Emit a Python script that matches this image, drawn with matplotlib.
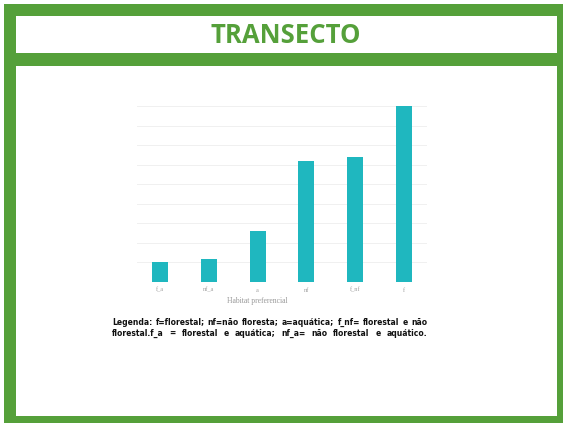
import matplotlib
matplotlib.use("Agg")
import matplotlib.pyplot as plt
from matplotlib.patches import Rectangle

# ---- data ----
categories = ["f_a", "nf_a", "a", "nf", "f_nf", "f"]
values = [5, 6, 13, 31, 32, 45]
grid_ticks = [0, 5, 10, 15, 20, 25, 30, 35, 40, 45]
title_text = "TRANSECTO"
xlabel_text = "Habitat preferencial"
legend_lines = [
    "Legenda: f=florestal; nf=não floresta; a=aquática; f_nf= florestal e não",
    "florestal.f_a = florestal e aquática; nf_a= não florestal e aquático.",
]

W, H = 563, 423
DPI = 100
GREEN = "#55A03A"
BAR = "#1FB7BF"

fig = plt.figure(figsize=(W / DPI, H / DPI), dpi=DPI)
fig.patch.set_facecolor("white")


def fx(px):
    return px / W


def fy(py):
    return 1 - py / H


# green frame
fig.patches.append(Rectangle((fx(4), fy(423)), fx(563) - fx(4), fy(4) - fy(423),
                             transform=fig.transFigure, facecolor=GREEN, edgecolor="none", zorder=0))
# header white box
fig.patches.append(Rectangle((fx(16), fy(53)), fx(557) - fx(16), fy(16) - fy(53),
                             transform=fig.transFigure, facecolor="white", edgecolor="none", zorder=0.1))
# main white box
fig.patches.append(Rectangle((fx(16), fy(416)), fx(557) - fx(16), fy(66) - fy(416),
                             transform=fig.transFigure, facecolor="white", edgecolor="none", zorder=0.1))

fig.text(fx(286), fy(35.5), title_text, ha="center", va="center", color=GREEN,
         fontsize=18.5, fontweight="bold", family="Open Sans", zorder=5)

# chart axes
ax = fig.add_axes([fx(137), fy(282), fx(427) - fx(137), fy(106) - fy(282)])
ax.set_zorder(3)
ax.set_facecolor("none")
x = list(range(len(categories)))
ax.bar(x, values, width=0.33, color=BAR, zorder=3)
ax.set_xlim(-0.48, len(categories) - 0.52)
ax.set_ylim(0, 45)
ax.set_yticks(grid_ticks)
ax.yaxis.grid(True, color="#F0F0F0", linewidth=0.7, zorder=0)
ax.tick_params(axis="y", left=False, labelleft=False)
ax.set_xticks(x)
ax.set_xticklabels(categories, fontsize=4.5, color="#A0A0A0", family="Liberation Serif")
ax.tick_params(axis="x", length=0, pad=4)
for s in ax.spines.values():
    s.set_visible(False)

fig.text(fx(257), fy(301), xlabel_text, ha="center", va="center", fontsize=5.5,
         color="#999999", family="Liberation Serif", zorder=5)

# justified legend text
renderer = fig.canvas.get_renderer()
left_px, right_px = 112, 427
line_y = [322, 333]


def place_line(line, ypx, size):
    words = line.split(" ")
    texts = [fig.text(0, fy(ypx), w, ha="left", va="center", fontsize=size,
                      fontweight="bold", family="DejaVu Sans", color="#111111", zorder=5)
             for w in words]
    widths = [t.get_window_extent(renderer).width for t in texts]
    gap = (right_px - left_px - sum(widths)) / (len(words) - 1)
    return texts, widths, gap


size = 7.0
while True:
    texts, widths, gap = place_line(legend_lines[0], line_y[0], size)
    for t in texts:
        t.remove()
    if gap >= 3.0 or size < 4:
        break
    size -= 0.1

for line, ypx in zip(legend_lines, line_y):
    texts, widths, gap = place_line(line, ypx, size)
    cur = left_px
    for t, w in zip(texts, widths):
        t.set_x(fx(cur))
        cur += w + gap

fig.savefig("out.png", dpi=DPI)
